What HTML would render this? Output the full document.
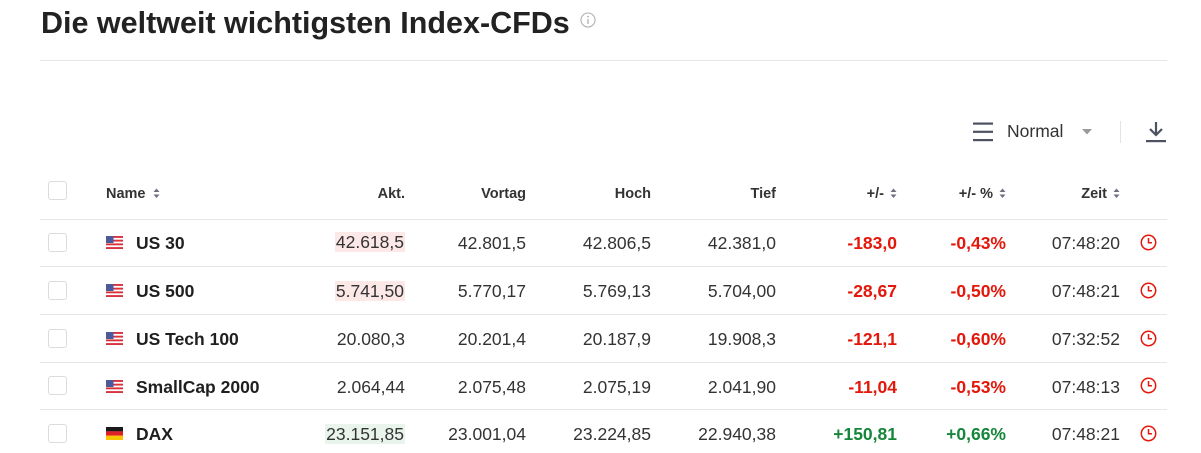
<!DOCTYPE html>
<html><head><meta charset="utf-8">
<style>
html,body{margin:0;padding:0;background:#fff;}
body{width:1201px;height:453px;position:relative;overflow:hidden;font-family:"Liberation Sans",Arial,sans-serif;color:#333;}
.a{position:absolute;white-space:nowrap;}
.r{position:absolute;width:240px;text-align:right;white-space:nowrap;line-height:20px;height:20px;}
.num{font-size:17.5px;color:#333;}
.hd{font-size:14.5px;font-weight:bold;color:#333;}
.nm{position:absolute;left:136px;font-size:17.5px;font-weight:bold;color:#1f1f1f;line-height:20px;white-space:nowrap;}
.neg{color:#e3170a;font-weight:bold;}
.pos{color:#16863a;font-weight:bold;}
.cb{position:absolute;left:48px;width:17px;height:17px;border:1px solid #dcdcdc;border-radius:3px;background:#fff;}
.line{position:absolute;left:40px;width:1127px;height:1px;background:#e6e6e6;}
.hl{padding:0 1px;}
.hlr{background:#fce9e7;}
.hlg{background:#e8f4ec;}
.flag{position:absolute;left:106px;width:17px;height:13px;}
</style></head><body>

<div class="a" style="left:41px;top:5px;font-size:30.5px;font-weight:bold;line-height:36px;color:#222;">Die weltweit wichtigsten Index-CFDs</div>
<svg class="a" style="left:580px;top:12px" width="16" height="16" viewBox="0 0 16 16"><circle cx="8" cy="8" r="7" fill="none" stroke="#b0b0b0" stroke-width="1.1"/><line x1="8" y1="7" x2="8" y2="12" stroke="#b0b0b0" stroke-width="1.3"/><circle cx="8" cy="4.6" r="0.9" fill="#b0b0b0"/></svg>
<div class="line" style="top:60px;"></div>

<!-- toolbar -->
<svg class="a" style="left:972px;top:121px" width="22" height="21" viewBox="0 0 22 21"><rect x="1" y="1.5" width="20" height="2.2" fill="#4c5262"/><rect x="1" y="9.7" width="20" height="2.2" fill="#4c5262"/><rect x="1" y="18" width="20" height="2.2" fill="#4c5262"/></svg>
<div class="a" style="left:1007px;top:121px;font-size:17.5px;line-height:20px;color:#333;">Normal</div>
<svg class="a" style="left:1082px;top:129px" width="10" height="6" viewBox="0 0 10 6"><polygon points="0,0 10,0 5,5.5" fill="#9a9a9a"/></svg>
<div class="a" style="left:1120px;top:121px;width:1px;height:22px;background:#e3e3e3;"></div>
<svg class="a" style="left:1145px;top:120px" width="22" height="24" viewBox="0 0 22 24"><line x1="11" y1="2" x2="11" y2="14" stroke="#4c5262" stroke-width="2.2"/><polyline points="5,9 11,15 17,9" fill="none" stroke="#4c5262" stroke-width="2.2"/><rect x="1" y="20" width="20" height="2.2" fill="#4c5262"/></svg>

<!-- header -->
<div class="cb" style="top:181px;"></div>
<div class="a hd" style="left:106px;top:184px;line-height:20px;">Name</div>
<svg class="a" style="left:153px;top:188px" width="7" height="11" viewBox="0 0 7 11"><polygon points="0.5,4 6.5,4 3.5,0.5" fill="#6b7080"/><polygon points="0.5,6.5 6.5,6.5 3.5,10" fill="#6b7080"/></svg>
<div class="r hd" style="left:165px;top:184px;">Akt.</div>
<div class="r hd" style="left:286px;top:184px;">Vortag</div>
<div class="r hd" style="left:411px;top:184px;">Hoch</div>
<div class="r hd" style="left:536px;top:184px;">Tief</div>
<div class="r hd" style="left:644px;top:184px;">+/-</div>
<svg class="a" style="left:890px;top:188px" width="7" height="11" viewBox="0 0 7 11"><polygon points="0.5,4 6.5,4 3.5,0.5" fill="#6b7080"/><polygon points="0.5,6.5 6.5,6.5 3.5,10" fill="#6b7080"/></svg>
<div class="r hd" style="left:753px;top:184px;">+/- %</div>
<svg class="a" style="left:999px;top:188px" width="7" height="11" viewBox="0 0 7 11"><polygon points="0.5,4 6.5,4 3.5,0.5" fill="#6b7080"/><polygon points="0.5,6.5 6.5,6.5 3.5,10" fill="#6b7080"/></svg>
<div class="r hd" style="left:867px;top:184px;">Zeit</div>
<svg class="a" style="left:1113px;top:188px" width="7" height="11" viewBox="0 0 7 11"><polygon points="0.5,4 6.5,4 3.5,0.5" fill="#6b7080"/><polygon points="0.5,6.5 6.5,6.5 3.5,10" fill="#6b7080"/></svg>
<div class="line" style="top:219px;"></div>

<!-- row 1: US 30, center 243 -->
<div class="cb" style="top:233px;"></div>
<svg class="flag" style="top:236px" viewBox="0 0 17 13"><rect width="17" height="13" fill="#fff"/><g fill="#d8323c"><rect y="0" width="17" height="1.9"/><rect y="3.7" width="17" height="1.9"/><rect y="7.4" width="17" height="1.9"/><rect y="11.1" width="17" height="1.9"/></g><rect width="7.5" height="7" fill="#4a5a9a"/></svg>
<div class="nm" style="top:233px;">US 30</div>
<div class="r num" style="left:165px;top:232px;"><span class="hl hlr">42.618,5</span></div>
<div class="r num" style="left:286px;top:233px;">42.801,5</div>
<div class="r num" style="left:411px;top:233px;">42.806,5</div>
<div class="r num" style="left:536px;top:233px;">42.381,0</div>
<div class="r num neg" style="left:657px;top:233px;">-183,0</div>
<div class="r num neg" style="left:766px;top:233px;">-0,43%</div>
<div class="r num" style="left:880px;top:233px;">07:48:20</div>
<svg class="a" style="left:1140px;top:234px" width="17" height="17" viewBox="0 0 17 17"><circle cx="8.5" cy="8.5" r="7.2" fill="none" stroke="#e3170a" stroke-width="1.5"/><polyline points="8.5,4 8.5,8.8 12,8.8" fill="none" stroke="#e3170a" stroke-width="1.5"/></svg>
<div class="line" style="top:266px;"></div>

<!-- row 2: US 500, center 291 -->
<div class="cb" style="top:281px;"></div>
<svg class="flag" style="top:284px" viewBox="0 0 17 13"><rect width="17" height="13" fill="#fff"/><g fill="#d8323c"><rect y="0" width="17" height="1.9"/><rect y="3.7" width="17" height="1.9"/><rect y="7.4" width="17" height="1.9"/><rect y="11.1" width="17" height="1.9"/></g><rect width="7.5" height="7" fill="#4a5a9a"/></svg>
<div class="nm" style="top:281px;">US 500</div>
<div class="r num" style="left:165px;top:281px;"><span class="hl hlr">5.741,50</span></div>
<div class="r num" style="left:286px;top:281px;">5.770,17</div>
<div class="r num" style="left:411px;top:281px;">5.769,13</div>
<div class="r num" style="left:536px;top:281px;">5.704,00</div>
<div class="r num neg" style="left:657px;top:281px;">-28,67</div>
<div class="r num neg" style="left:766px;top:281px;">-0,50%</div>
<div class="r num" style="left:880px;top:281px;">07:48:21</div>
<svg class="a" style="left:1140px;top:282px" width="17" height="17" viewBox="0 0 17 17"><circle cx="8.5" cy="8.5" r="7.2" fill="none" stroke="#e3170a" stroke-width="1.5"/><polyline points="8.5,4 8.5,8.8 12,8.8" fill="none" stroke="#e3170a" stroke-width="1.5"/></svg>
<div class="line" style="top:314px;"></div>

<!-- row 3: US Tech 100, center 339 -->
<div class="cb" style="top:329px;"></div>
<svg class="flag" style="top:332px" viewBox="0 0 17 13"><rect width="17" height="13" fill="#fff"/><g fill="#d8323c"><rect y="0" width="17" height="1.9"/><rect y="3.7" width="17" height="1.9"/><rect y="7.4" width="17" height="1.9"/><rect y="11.1" width="17" height="1.9"/></g><rect width="7.5" height="7" fill="#4a5a9a"/></svg>
<div class="nm" style="top:329px;">US Tech 100</div>
<div class="r num" style="left:165px;top:329px;">20.080,3</div>
<div class="r num" style="left:286px;top:329px;">20.201,4</div>
<div class="r num" style="left:411px;top:329px;">20.187,9</div>
<div class="r num" style="left:536px;top:329px;">19.908,3</div>
<div class="r num neg" style="left:657px;top:329px;">-121,1</div>
<div class="r num neg" style="left:766px;top:329px;">-0,60%</div>
<div class="r num" style="left:880px;top:329px;">07:32:52</div>
<svg class="a" style="left:1140px;top:330px" width="17" height="17" viewBox="0 0 17 17"><circle cx="8.5" cy="8.5" r="7.2" fill="none" stroke="#e3170a" stroke-width="1.5"/><polyline points="8.5,4 8.5,8.8 12,8.8" fill="none" stroke="#e3170a" stroke-width="1.5"/></svg>
<div class="line" style="top:362px;"></div>

<!-- row 4: SmallCap 2000, center 386.5 -->
<div class="cb" style="top:376px;"></div>
<svg class="flag" style="top:380px" viewBox="0 0 17 13"><rect width="17" height="13" fill="#fff"/><g fill="#d8323c"><rect y="0" width="17" height="1.9"/><rect y="3.7" width="17" height="1.9"/><rect y="7.4" width="17" height="1.9"/><rect y="11.1" width="17" height="1.9"/></g><rect width="7.5" height="7" fill="#4a5a9a"/></svg>
<div class="nm" style="top:376.5px;">SmallCap 2000</div>
<div class="r num" style="left:165px;top:376.5px;">2.064,44</div>
<div class="r num" style="left:286px;top:376.5px;">2.075,48</div>
<div class="r num" style="left:411px;top:376.5px;">2.075,19</div>
<div class="r num" style="left:536px;top:376.5px;">2.041,90</div>
<div class="r num neg" style="left:657px;top:376.5px;">-11,04</div>
<div class="r num neg" style="left:766px;top:376.5px;">-0,53%</div>
<div class="r num" style="left:880px;top:376.5px;">07:48:13</div>
<svg class="a" style="left:1140px;top:377px" width="17" height="17" viewBox="0 0 17 17"><circle cx="8.5" cy="8.5" r="7.2" fill="none" stroke="#e3170a" stroke-width="1.5"/><polyline points="8.5,4 8.5,8.8 12,8.8" fill="none" stroke="#e3170a" stroke-width="1.5"/></svg>
<div class="line" style="top:409px;"></div>

<!-- row 5: DAX, center 434 -->
<div class="cb" style="top:424px;"></div>
<svg class="flag" style="top:427px" viewBox="0 0 17 13"><rect y="0" width="17" height="4.4" fill="#1a1a1a"/><rect y="4.3" width="17" height="4.4" fill="#dd1f26"/><rect y="8.6" width="17" height="4.4" fill="#f7c600"/></svg>
<div class="nm" style="top:424px;">DAX</div>
<div class="r num" style="left:165px;top:424px;"><span class="hl hlg">23.151,85</span></div>
<div class="r num" style="left:286px;top:424px;">23.001,04</div>
<div class="r num" style="left:411px;top:424px;">23.224,85</div>
<div class="r num" style="left:536px;top:424px;">22.940,38</div>
<div class="r num pos" style="left:657px;top:424px;">+150,81</div>
<div class="r num pos" style="left:766px;top:424px;">+0,66%</div>
<div class="r num" style="left:880px;top:424px;">07:48:21</div>
<svg class="a" style="left:1140px;top:425px" width="17" height="17" viewBox="0 0 17 17"><circle cx="8.5" cy="8.5" r="7.2" fill="none" stroke="#e3170a" stroke-width="1.5"/><polyline points="8.5,4 8.5,8.8 12,8.8" fill="none" stroke="#e3170a" stroke-width="1.5"/></svg>

</body></html>
